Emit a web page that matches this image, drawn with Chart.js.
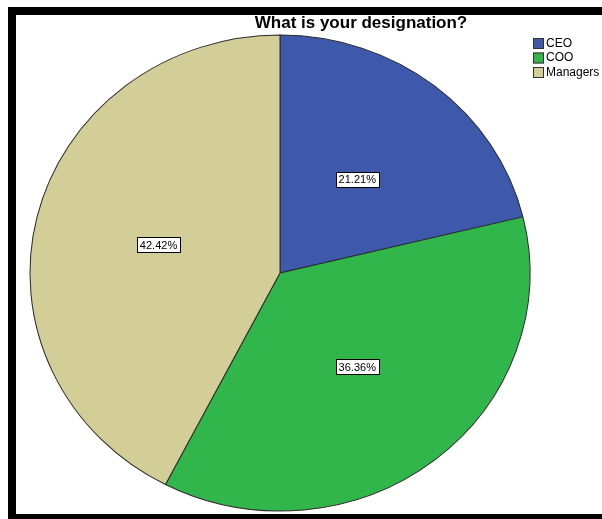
<!DOCTYPE html>
<html>
<head>
<meta charset="utf-8">
<script src="https://cdn.jsdelivr.net/npm/chart.js@4.4.0/dist/chart.umd.min.js"></script>
<style>
  body { margin: 0; background: #fff; overflow: hidden; }
  #frame { position: absolute; left: 8px; top: 7px; width: 620px; height: 499px; border: 8px solid #000; }
  #Chart { position: absolute; left: 0; top: 0; }
</style>
</head>
<body>
<div id="frame"></div>
<canvas id="Chart" width="602" height="519"></canvas>
<script>
const categories = ['CEO', 'COO', 'Managers'];
const counts = [7, 12, 14];
const percentLabels = ['21.21%', '36.36%', '42.42%'];
const colors = ['#3e58ac', '#31b64b', '#d3cd98'];
const chartTitle = 'What is your designation?';

// the SPSS pie is a little squashed vertically
const squash = { cx: 280, cy: 273, rx: 250, ry: 238 };

function squashPoint(meta0, p) {
    const k = squash.rx / meta0.outerRadius;
    const ky = squash.ry / meta0.outerRadius;
    return { x: squash.cx + (p.x - meta0.x) * k, y: squash.cy + (p.y - meta0.y) * ky };
}

const spssDecor = {
    id: 'spssDecor',
    beforeDatasetsDraw(chart) {
        const a = chart.getDatasetMeta(0).data[0];
        const ctx = chart.ctx;
        ctx.save();
        ctx.translate(squash.cx, squash.cy);
        ctx.scale(squash.rx / a.outerRadius, squash.ry / a.outerRadius);
        ctx.translate(-a.x, -a.y);
    },
    afterDatasetsDraw(chart) {
        const ctx = chart.ctx;
        ctx.restore();
        ctx.save();
        const arcs = chart.getDatasetMeta(0).data;
        // percent boxes
        ctx.font = '11px Arial, "Liberation Sans", sans-serif';
        ctx.textAlign = 'center';
        ctx.textBaseline = 'middle';
        arcs.forEach((arc, i) => {
            const p = squashPoint(arcs[0], arc.tooltipPosition());
            const txt = percentLabels[i];
            const w = Math.round(ctx.measureText(txt).width) + 6;
            const h = 15;
            const x = Math.round(p.x - w / 2) + 0.5;
            const y = Math.round(p.y - h / 2) + 0.5;
            ctx.fillStyle = '#fff';
            ctx.fillRect(x, y, w, h);
            ctx.strokeStyle = '#000';
            ctx.lineWidth = 1;
            ctx.strokeRect(x, y, w, h);
            ctx.fillStyle = '#000';
            ctx.fillText(txt, p.x, p.y + 1);
        });
        // title
        ctx.font = 'bold 17px Arial, "Liberation Sans", sans-serif';
        ctx.textBaseline = 'alphabetic';
        ctx.fillText(chartTitle, 361, 28);
        // legend
        ctx.font = '12px Arial, "Liberation Sans", sans-serif';
        ctx.textAlign = 'left';
        ctx.textBaseline = 'middle';
        categories.forEach((c, i) => {
            const y = 38 + i * 14.5;
            ctx.fillStyle = colors[i];
            ctx.fillRect(533, y, 11, 11);
            ctx.strokeStyle = '#333';
            ctx.strokeRect(533.5, y + 0.5, 10, 10);
            ctx.fillStyle = '#000';
            ctx.fillText(c, 546, y + 5.5);
        });
        ctx.restore();
    }
};

const ctx = document.getElementById('Chart').getContext('2d');
new Chart(ctx, {
    type: 'pie',
    data: {
        labels: categories,
        datasets: [{
            data: counts,
            backgroundColor: colors,
            borderColor: '#2a2a2a',
            borderWidth: 1
        }]
    },
    options: {
        responsive: false,
        animation: false,
        layout: { padding: { left: 30, right: 72, top: 17, bottom: 2 } },
        plugins: {
            legend: { display: false },
            title: { display: false },
            tooltip: { enabled: false }
        }
    },
    plugins: [spssDecor]
});
</script>
</body>
</html>
